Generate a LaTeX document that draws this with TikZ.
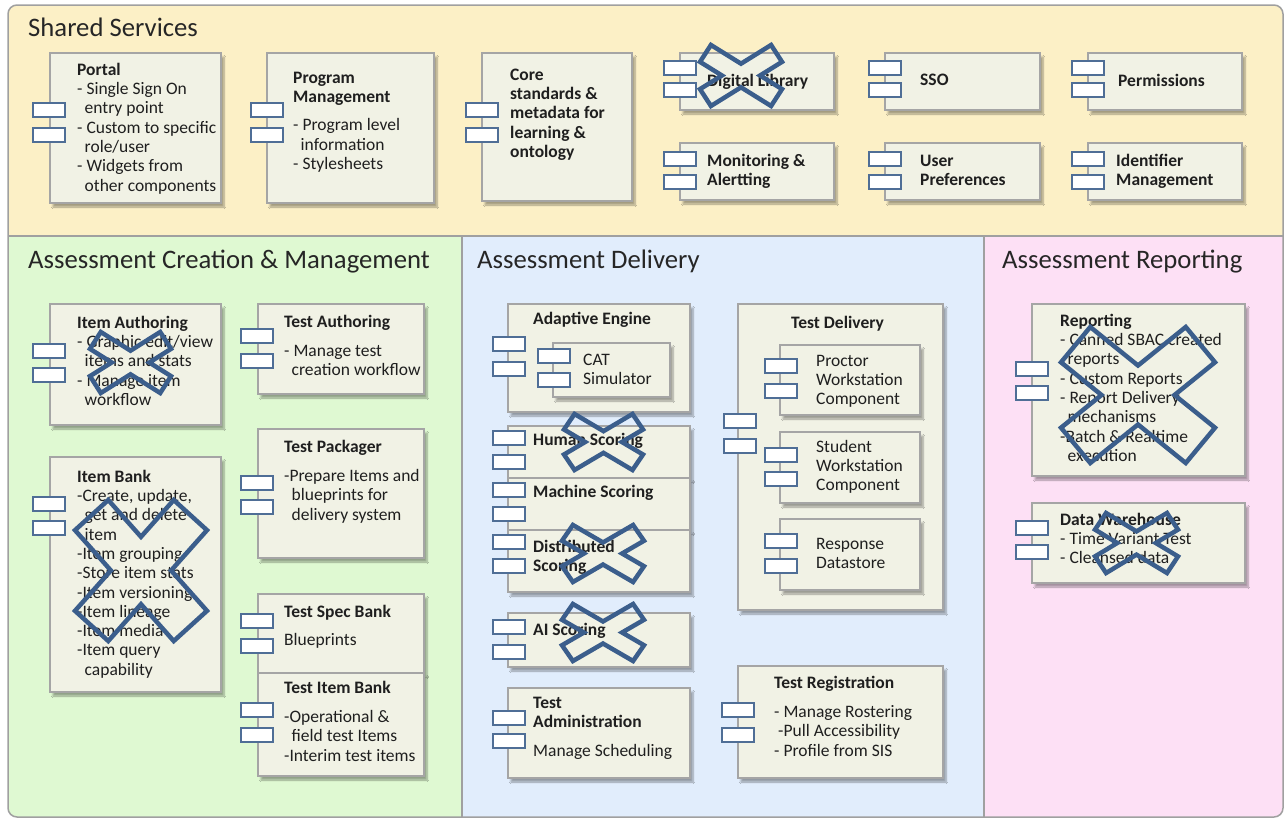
\documentclass[tikz,border=0pt]{standalone}
\usepackage{fontspec}
\setmainfont{Carlito}
\usetikzlibrary{fit,shadows.blur}

\definecolor{sharedbg}{RGB}{252,240,198}
\definecolor{creationbg}{RGB}{223,249,210}
\definecolor{deliverybg}{RGB}{225,237,252}
\definecolor{reportbg}{RGB}{253,224,245}
\definecolor{compfill}{RGB}{241,242,229}
\definecolor{compline}{RGB}{165,165,165}
\definecolor{portline}{RGB}{79,110,150}
\definecolor{strikeblue}{RGB}{59,94,140}
\definecolor{framegray}{RGB}{160,160,160}

\tikzset{
  comp/.style={draw=compline, fill=compfill, line width=1.3pt, inner sep=0pt,
    blur shadow={shadow xshift=3pt, shadow yshift=-4pt, shadow opacity=35, shadow blur steps=6}},
  port/.style={draw=portline, fill=white, line width=1.1pt},
  txt/.style={anchor=north west, inner sep=0pt, align=left, text=black!88,
    font=\fontsize{17.5}{19.3}\selectfont},
  txtb/.style={txt, font=\fontsize{17.5}{19.3}\selectfont\bfseries},
  head/.style={anchor=base west, inner sep=0pt, text=black!85,
    font=\fontsize{26.7}{30}\selectfont},
  strikeline/.style={draw=strikeblue, line width=4.5pt, line join=miter},
}

\newcommand{\ind}{\hspace*{7.5pt}}

% two ports on the left edge of a component
\newcommand{\ports}[3]{%
  \draw[port] (#1,#2) rectangle ++(32,14);
  \draw[port] (#1,#3) rectangle ++(32,14);}

% cross mark: left, top, width, height, then shape parameters
\newcommand{\strike}[8]{%
  \draw[strikeline, shift={(#1,#2)}, xscale=#3, yscale=#4]
    (0,#5) -- (#6,0) -- (0.5,#7) -- ({1-#6},0) -- (1,#5) -- ({1-#8},0.5)
    -- (1,{1-#5}) -- ({1-#6},1) -- (0.5,{1-#7}) -- (#6,1) -- (0,{1-#5}) -- (#8,0.5) -- cycle;}

\begin{document}
\begin{tikzpicture}[x=1pt, y=-1pt]
    \useasboundingbox (0,0) rectangle (1287,819);

    % areas
    \begin{scope}
        \clip[rounded corners=9pt] (8,5) rectangle (1283,817);
        \fill[sharedbg] (8,5) rectangle (1283,236);
        \fill[creationbg] (8,236) rectangle (462,817);
        \fill[deliverybg] (462,236) rectangle (984,817);
        \fill[reportbg] (984,236) rectangle (1283,817);
    \end{scope}
    \draw[framegray, line width=1.5pt, rounded corners=9pt] (8,5) rectangle (1283,817);
    \draw[framegray, line width=1.5pt] (8,236) -- (1283,236) (462,236) -- (462,817) (984,236) -- (984,817);

    \node[head] (shared) at (28,36) {Shared Services};
    \node[head] (creation) at (28,268) {Assessment Creation \& Management};
    \node[head] (delivery) at (477,268) {Assessment Delivery};
    \node[head] (reportarea) at (1002,268) {Assessment Reporting};

    % shared services
    \node[comp, fit={(50,53) (221,203)}] (portal) {};
    \ports{33}{103}{128}
    \node[txt] (portal-t) at (77,61.5) {\strut\textbf{Portal}\\- Single Sign On\\\ind entry point\\- Custom to specific\\\ind role/user\\- Widgets from\\\ind other components};

    \node[comp, fit={(267,53) (434,203)}] (progmgmt) {};
    \ports{251}{103}{128}
    \node[txt] (progmgmt-t) at (293,69.5) {\strut\textbf{Program}\\\textbf{Management}\\[9pt]- Program level\\\ind information\\- Stylesheets};

    \node[comp, fit={(482,53) (632,201)}] (core) {};
    \ports{466}{103}{128}
    \node[txtb] (core-t) at (510,66.5) {\strut Core\\standards \&\\metadata for\\learning \&\\ontology};

    \node[comp, fit={(680,53) (834,110)}] (diglib) {};
    \ports{664}{61}{83}
    \node[txtb] (diglib-t) at (707,72.5) {\strut Digital Library};

    \node[comp, fit={(680,143) (834,200)}] (monitor) {};
    \ports{664}{152}{175}
    \node[txtb] (monitor-t) at (707,152.5) {\strut Monitoring \&\\Alertting};

    \node[comp, fit={(885,53) (1040,110)}] (sso) {};
    \ports{869}{61}{83}
    \node[txtb] (sso-t) at (920,71.5) {\strut SSO};

    \node[comp, fit={(885,143) (1040,200)}] (userpref) {};
    \ports{869}{152}{175}
    \node[txtb] (userpref-t) at (920,152.5) {\strut User\\Preferences};

    \node[comp, fit={(1088,53) (1242,110)}] (perm) {};
    \ports{1072}{61}{83}
    \node[txtb] (perm-t) at (1118,72.5) {\strut Permissions};

    \node[comp, fit={(1088,143) (1242,200)}] (ident) {};
    \ports{1072}{152}{175}
    \node[txtb] (ident-t) at (1116,152.5) {\strut Identifier\\Management};

    % assessment creation & management
    \node[comp, fit={(50,304) (221,425)}] (itemauth) {};
    \ports{33}{344}{368}
    \node[txt] (itemauth-t) at (77,314.5) {\strut\textbf{Item Authoring}\\- Graphic edit/view\\\ind items and stats\\- Manage item\\\ind workflow};

    \node[comp, fit={(258,304) (424,394)}] (testauth) {};
    \ports{241}{329}{354}
    \node[txt] (testauth-t) at (284,313.5) {\strut\textbf{Test Authoring}\\[10pt]- Manage test\\\ind creation workflow};

    \node[comp, fit={(258,429) (424,558)}] (packager) {};
    \ports{241}{476}{500}
    \node[txt] (packager-t) at (284,438.5) {\strut\textbf{Test Packager}\\[10pt]-Prepare Items and\\\ind blueprints for\\\ind delivery system};

    \node[comp, fit={(50,457) (221,692)}] (itembank) {};
    \ports{33}{497}{521}
    \node[txt] (itembank-t) at (77,468.5) {\strut\textbf{Item Bank}\\-Create, update,\\\ind get and delete\\\ind item\\-Item grouping\\-Store item stats\\-Item versioning\\-Item lineage\\-Item media\\-Item query\\\ind capability};

    \node[comp, fit={(258,594) (424,673)}] (specbank) {};
    \ports{241}{614}{639}
    \node[txt] (specbank-t) at (284,603.5) {\strut\textbf{Test Spec Bank}\\[9pt]Blueprints};

    \node[comp, fit={(258,673) (424,776)}] (testitembank) {};
    \ports{241}{703}{728}
    \node[txt] (testitembank-t) at (284,679.5) {\strut\textbf{Test Item Bank}\\[10pt]-Operational \&\\\ind field test Items\\-Interim test items};

    % assessment delivery
    \node[comp, fit={(508,304) (690,412)}] (adaptive) {};
    \ports{493}{337}{362}
    \node[txtb] (adaptive-t) at (533,310.5) {\strut Adaptive Engine};
    \node[comp, fit={(553,343) (670,397)}] (catsim) {};
    \ports{538}{349}{373}
    \node[txt] (catsim-t) at (583,351.5) {\strut CAT\\Simulator};

    \node[comp, fit={(508,426) (690,478)}] (human) {};
    \ports{493}{431}{455}
    \node[txtb] (human-t) at (533,431.5) {\strut Human Scoring};

    \node[comp, fit={(508,478) (690,530)}] (machine) {};
    \ports{493}{483}{507}
    \node[txtb] (machine-t) at (533,483.5) {\strut Machine Scoring};

    \node[comp, fit={(508,530) (690,592)}] (distrib) {};
    \ports{493}{535}{559}
    \node[txtb] (distrib-t) at (533,538.5) {\strut Distributed\\Scoring};

    \node[comp, fit={(508,613) (690,667)}] (aiscore) {};
    \ports{493}{620}{645}
    \node[txtb] (aiscore-t) at (533,621.5) {\strut AI Scoring};

    \node[comp, fit={(508,688) (690,778)}] (testadmin) {};
    \ports{493}{711}{734}
    \node[txt] (testadmin-t) at (533,694.5) {\strut\textbf{Test}\\\textbf{Administration}\\[10pt]Manage Scheduling};

    \node[comp, fit={(738,304) (943,610)}] (testdel) {};
    \ports{724}{414}{439}
    \node[txtb] (testdel-t) at (791,314.5) {\strut Test Delivery};
    \node[comp, fit={(780,345) (920,415)}] (proctor) {};
    \ports{765}{359}{384}
    \node[txt] (proctor-t) at (816,352.5) {\strut Proctor\\Workstation\\Component};
    \node[comp, fit={(780,432) (920,503)}] (student) {};
    \ports{765}{448}{472}
    \node[txt] (student-t) at (816,438.5) {\strut Student\\Workstation\\Component};
    \node[comp, fit={(780,519) (920,590)}] (response) {};
    \ports{765}{534}{559}
    \node[txt] (response-t) at (816,535.5) {\strut Response\\Datastore};

    \node[comp, fit={(738,666) (943,778)}] (testreg) {};
    \ports{722}{703}{728}
    \node[txt] (testreg-t) at (774,674.5) {\strut\textbf{Test Registration}\\[10pt]- Manage Rostering\\\hspace*{4pt}-Pull Accessibility\\- Profile from SIS};

    % assessment reporting
    \node[comp, fit={(1032,304) (1245,476)}] (reporting) {};
    \ports{1016}{362}{386}
    \node[txt] (reporting-t) at (1060,312.5) {\strut\textbf{Reporting}\\- Canned SBAC created\\\ind reports\\- Custom Reports\\- Report Delivery\\\ind mechanisms\\-Batch \& Realtime\\\ind execution};

    \node[comp, fit={(1032,503) (1245,583)}] (warehouse) {};
    \ports{1016}{521}{545}
    \node[txt] (warehouse-t) at (1060,511.5) {\strut\textbf{Data Warehouse}\\- Time Variant Test\\- Cleansed data};

    % crossed out components
    \strike{700}{45}{82}{61}{.2766}{.1331}{.3062}{.2676}
    \strike{90}{332}{81}{61}{.2766}{.1331}{.3062}{.2676}
    \strike{564}{414}{79}{56}{.2766}{.1331}{.3062}{.2676}
    \strike{562}{525}{82}{57}{.2766}{.1331}{.3062}{.2676}
    \strike{562}{604}{82}{57}{.2766}{.1331}{.3062}{.2676}
    \strike{1095}{513}{83}{60}{.2766}{.1331}{.3062}{.2676}
    \strike{75}{500}{132}{141}{.214}{.252}{.261}{.272}
    \strike{1061}{327}{154}{136}{.2595}{.190}{.283}{.263}
\end{tikzpicture}
\end{document}
